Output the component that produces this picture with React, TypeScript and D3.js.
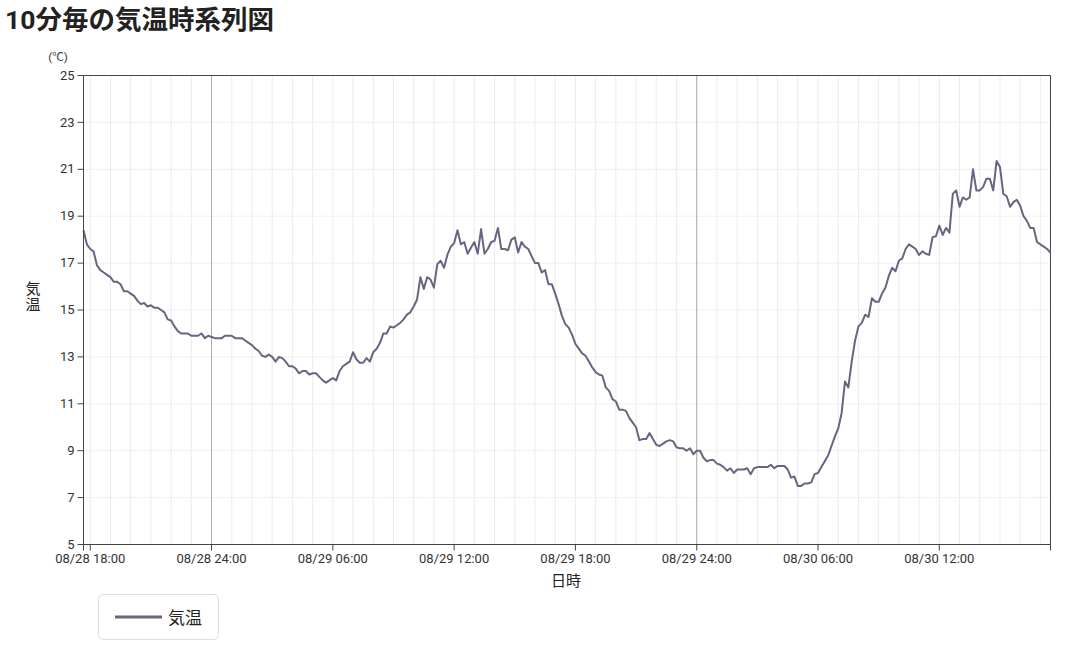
import * as d3 from 'd3';

// 10-minute temperatures, 08/28 17:40 .. 08/30 17:30 (℃)
const temps = [
  18.4, 17.8, 17.6, 17.5, 16.9, 16.7, 16.6, 16.5, 16.4, 16.2, 16.2, 16.1,
  15.8, 15.8, 15.7, 15.6, 15.4, 15.25, 15.3, 15.15, 15.2, 15.1, 15.1, 15.0,
  14.9, 14.6, 14.55, 14.3, 14.1, 14.0, 14.0, 14.0, 13.9, 13.9, 13.9, 14.0,
  13.8, 13.9, 13.85, 13.8, 13.8, 13.8, 13.9, 13.9, 13.9, 13.8, 13.8, 13.8,
  13.7, 13.6, 13.5, 13.35, 13.25, 13.05, 13.0, 13.1, 13.0, 12.8, 13.0, 12.95,
  12.8, 12.6, 12.6, 12.5, 12.3, 12.4, 12.4, 12.25, 12.3, 12.3, 12.15, 12.0,
  11.9, 12.0, 12.1, 12.0, 12.4, 12.6, 12.7, 12.8, 13.2, 12.9, 12.75, 12.75,
  12.95, 12.8, 13.2, 13.35, 13.6, 14.0, 14.0, 14.3, 14.25, 14.35, 14.45, 14.6,
  14.8, 14.9, 15.15, 15.45, 16.4, 15.9, 16.4, 16.3, 15.95, 16.95, 17.1, 16.8,
  17.35, 17.7, 17.85, 18.4, 17.8, 17.9, 17.4, 17.65, 17.9, 17.4, 18.45, 17.4,
  17.6, 17.9, 17.95, 18.5, 17.6, 17.6, 17.55, 18.0, 18.1, 17.45, 17.9, 17.7,
  17.6, 17.3, 17.0, 17.0, 16.6, 16.7, 16.1, 16.1, 15.7, 15.25, 14.75, 14.4,
  14.25, 13.95, 13.55, 13.35, 13.15, 13.05, 12.8, 12.55, 12.35, 12.25, 12.2, 11.7,
  11.55, 11.2, 11.1, 10.75, 10.75, 10.7, 10.4, 10.2, 10.0, 9.45, 9.5, 9.5,
  9.75, 9.5, 9.25, 9.2, 9.3, 9.4, 9.45, 9.4, 9.15, 9.1, 9.1, 9.0,
  9.1, 8.85, 9.0, 9.0, 8.7, 8.55, 8.6, 8.6, 8.45, 8.4, 8.3, 8.15,
  8.25, 8.05, 8.2, 8.2, 8.2, 8.25, 8.0, 8.25, 8.3, 8.3, 8.3, 8.3,
  8.4, 8.25, 8.35, 8.35, 8.35, 8.2, 7.85, 7.9, 7.5, 7.5, 7.6, 7.6,
  7.65, 8.0, 8.05, 8.3, 8.55, 8.8, 9.2, 9.6, 9.95, 10.6, 11.95, 11.7,
  12.8, 13.7, 14.3, 14.45, 14.8, 14.7, 15.5, 15.35, 15.35, 15.7, 15.95, 16.45,
  16.8, 16.65, 17.1, 17.2, 17.6, 17.8, 17.7, 17.6, 17.35, 17.5, 17.4, 17.35,
  18.1, 18.15, 18.6, 18.2, 18.5, 18.3, 19.95, 20.1, 19.4, 19.8, 19.7, 19.8,
  21.0, 20.1, 20.1, 20.25, 20.6, 20.6, 20.1, 21.35, 21.1, 19.95, 19.85, 19.4,
  19.6, 19.7, 19.45, 19.0, 18.8, 18.5, 18.5, 17.9, 17.8, 17.7, 17.6, 17.45,
];
const startTime = new Date(2023, 7, 28, 17, 40);
const times = temps.map((_, i) => d3.timeMinute.offset(startTime, i * 10));
const yTicks = [5, 7, 9, 11, 13, 15, 17, 19, 21, 23, 25];

const W = 1080;
const H = 659;
const M = { left: 83.5, right: 1050.5, top: 75.5, bottom: 544.5 };
const LINE = '#666680';
const FONT = "Roboto, 'Noto Sans CJK JP', sans-serif";

const pad = (n: number) => String(n).padStart(2, '0');
const fmtTick = (d: Date) => {
  if (d.getHours() === 0) {
    const prev = d3.timeDay.offset(d, -1);
    return `${pad(prev.getMonth() + 1)}/${pad(prev.getDate())} 24:00`;
  }
  return `${pad(d.getMonth() + 1)}/${pad(d.getDate())} ${pad(d.getHours())}:00`;
};

const App = () => {
  const x = d3.scaleTime().domain(d3.extent(times) as [Date, Date]).range([M.left, M.right]);
  const y = d3.scaleLinear().domain([5, 25]).range([M.bottom, M.top]);

  const line = d3
    .line<number>()
    .x((_, i) => x(times[i]))
    .y((d) => y(d));

  const hours = x.ticks(d3.timeHour.every(1)!);
  const sixHours = x.ticks(d3.timeHour.every(6)!);
  const days = hours.filter((d) => d.getHours() === 0);

  return (
    <svg
      width={W}
      height={H}
      style={{ position: 'absolute', left: 0, top: 0, background: '#fff' }}
      fontFamily={FONT}
    >
      <text x={5} y={29} fontSize={26.5} fontWeight="bold" fill="#222">
        10分毎の気温時系列図
      </text>

      {/* hourly grid */}
      {hours.map((h) => (
        <line key={+h} x1={x(h)} x2={x(h)} y1={M.top} y2={M.bottom} stroke="#ececec" strokeWidth={1} />
      ))}
      {yTicks.map((t) => (
        <line
          key={t}
          x1={M.left}
          x2={M.right}
          y1={y(t)}
          y2={y(t)}
          stroke="#e8e8e8"
          strokeDasharray="2,1"
          strokeWidth={1}
        />
      ))}
      {days.map((d) => (
        <line key={+d} x1={x(d)} x2={x(d)} y1={M.top} y2={M.bottom} stroke="#aaa" strokeWidth={1} />
      ))}

      {/* frame */}
      <line x1={M.left} x2={M.right} y1={M.top} y2={M.top} stroke="#444" />
      <line x1={M.right} x2={M.right} y1={M.top} y2={M.bottom} stroke="#444" />

      <path d={line(temps) ?? ''} fill="none" stroke={LINE} strokeWidth={2} strokeLinejoin="round" />

      {/* y axis */}
      <line x1={M.left} x2={M.left} y1={M.top} y2={M.bottom} stroke="#444" />
      {yTicks.map((t) => (
        <g key={t} transform={`translate(${M.left},${y(t)})`}>
          <line x1={-6} x2={0} stroke="#444" />
          <text x={-9} dy="0.32em" textAnchor="end" fontSize={13} fill="#333">
            {t}
          </text>
        </g>
      ))}
      <text x={58} y={61} textAnchor="middle" fontSize={11.5} fill="#333">
        (℃)
      </text>
      <text x={33} y={294} textAnchor="middle" fontSize={15} fill="#222">
        気
      </text>
      <text x={33} y={310} textAnchor="middle" fontSize={15} fill="#222">
        温
      </text>

      {/* x axis */}
      <line x1={M.left} x2={M.right} y1={M.bottom} y2={M.bottom} stroke="#444" />
      <line x1={M.left} x2={M.left} y1={M.bottom} y2={M.bottom + 6} stroke="#444" />
      <line x1={M.right} x2={M.right} y1={M.bottom} y2={M.bottom + 6} stroke="#444" />
      {sixHours.map((t) => (
        <g key={+t} transform={`translate(${x(t)},${M.bottom})`}>
          <line y2={6} stroke="#444" />
          <text y={9} dy="0.71em" textAnchor="middle" fontSize={13} fill="#333">
            {fmtTick(t)}
          </text>
        </g>
      ))}
      <text x={566} y={586} textAnchor="middle" fontSize={15} fill="#222">
        日時
      </text>

      {/* legend */}
      <rect x={98.5} y={594.5} width={120} height={45} rx={5} fill="#fff" stroke="#ddd" />
      <line x1={115} x2={162} y1={617} y2={617} stroke={LINE} strokeWidth={3} />
      <text x={168} y={624} fontSize={17} fill="#222">
        気温
      </text>
    </svg>
  );
};

export default App;
